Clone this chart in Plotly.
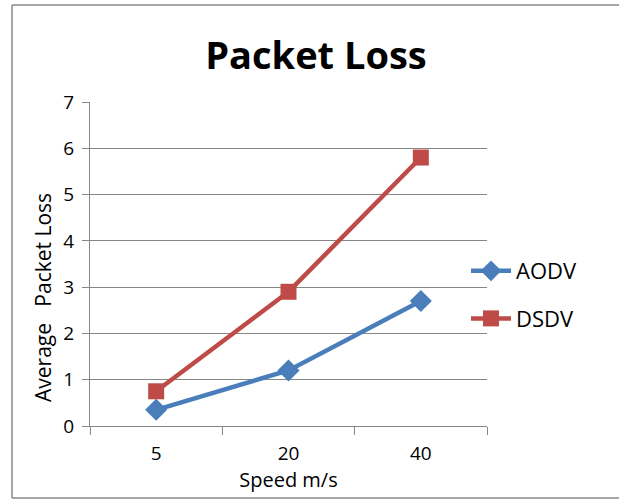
import plotly.graph_objects as go

speeds = ["5", "20", "40"]
aodv = [0.35, 1.2, 2.7]
dsdv = [0.75, 2.9, 5.8]
y_ticks = [0, 1, 2, 3, 4, 5, 6, 7]

W, H = 619, 500
L, R, T, B = 90, 487, 102, 426
pw, ph = R - L, B - T

def px(x):
    return (x - L) / pw

def py(y):
    return (B - y) / ph

fig = go.Figure()
fig.add_trace(go.Scatter(
    x=speeds, y=aodv, name="AODV", mode="lines+markers", legendgroup="a",
    line=dict(color="#4A7EBB", width=4.5),
    marker=dict(symbol="diamond", size=17, color="#4A7EBB"),
))
fig.add_trace(go.Scatter(
    x=speeds, y=dsdv, name="DSDV", mode="lines+markers", legendgroup="b",
    line=dict(color="#BE4B48", width=4.5),
    marker=dict(symbol="square", size=16, color="#BE4B48"),
))

font = "Open Sans, Noto Sans, Liberation Sans, sans-serif"
bx0, bx1, by0, by1 = px(12), px(619), py(498), py(5)
bline = dict(color="#8A8A8A", width=1.5)
border = [
    dict(type="line", xref="paper", yref="paper", x0=bx0, x1=bx0, y0=by0, y1=by1, line=bline, layer="below"),
    dict(type="line", xref="paper", yref="paper", x0=bx0, x1=bx1, y0=by0, y1=by0, line=bline, layer="below"),
    dict(type="line", xref="paper", yref="paper", x0=bx0, x1=bx1, y0=by1, y1=by1, line=bline, layer="below"),
]

fig.update_layout(
    width=W, height=H, autosize=False,
    margin=dict(l=L, r=W - R, t=T, b=H - B),
    paper_bgcolor="white", plot_bgcolor="white",
    font=dict(family=font, color="black", size=18),
    title=dict(text="<b>Packet Loss</b>", x=316 / W, xanchor="center",
               y=1 - 56 / H, yanchor="middle",
               font=dict(size=38, family=font, color="black")),
    xaxis=dict(
        type="category", range=[-0.5, 2.5], tickson="boundaries",
        ticks="outside", ticklen=8, tickcolor="#868686", tickwidth=1.3,
        showline=True, linecolor="#868686", linewidth=1.3,
        showgrid=False, tickfont=dict(size=19), ticklabelstandoff=10,
        title=dict(text="Speed m/s", font=dict(size=20), standoff=0),
    ),
    yaxis=dict(
        range=[0, 7], tickvals=y_ticks, ticks="outside", ticklen=7,
        tickcolor="#868686", tickwidth=1.3,
        showline=True, linecolor="#868686", linewidth=1.3,
        showgrid=True, gridcolor="#868686", gridwidth=1.3,
        zeroline=False, tickfont=dict(size=19), ticklabelstandoff=4,
    ),
    legend=dict(x=px(466), y=py(250), xanchor="left", yanchor="top",
                font=dict(size=22), traceorder="grouped", tracegroupgap=16,
                bgcolor="rgba(0,0,0,0)", itemwidth=40),
    shapes=border,
    annotations=[dict(text="Average&nbsp;&nbsp;&nbsp;Packet Loss", textangle=-90,
                      xref="paper", yref="paper", x=px(43), y=py(298),
                      xanchor="center", yanchor="middle", showarrow=False,
                      font=dict(size=21, family=font, color="black"))],
)

fig.write_html("out.html", config={"displayModeBar": False},
               post_script=("document.documentElement.style.overflow='hidden';"
                            "document.body.style.margin='0';"
                            "document.body.style.overflow='hidden';"))
